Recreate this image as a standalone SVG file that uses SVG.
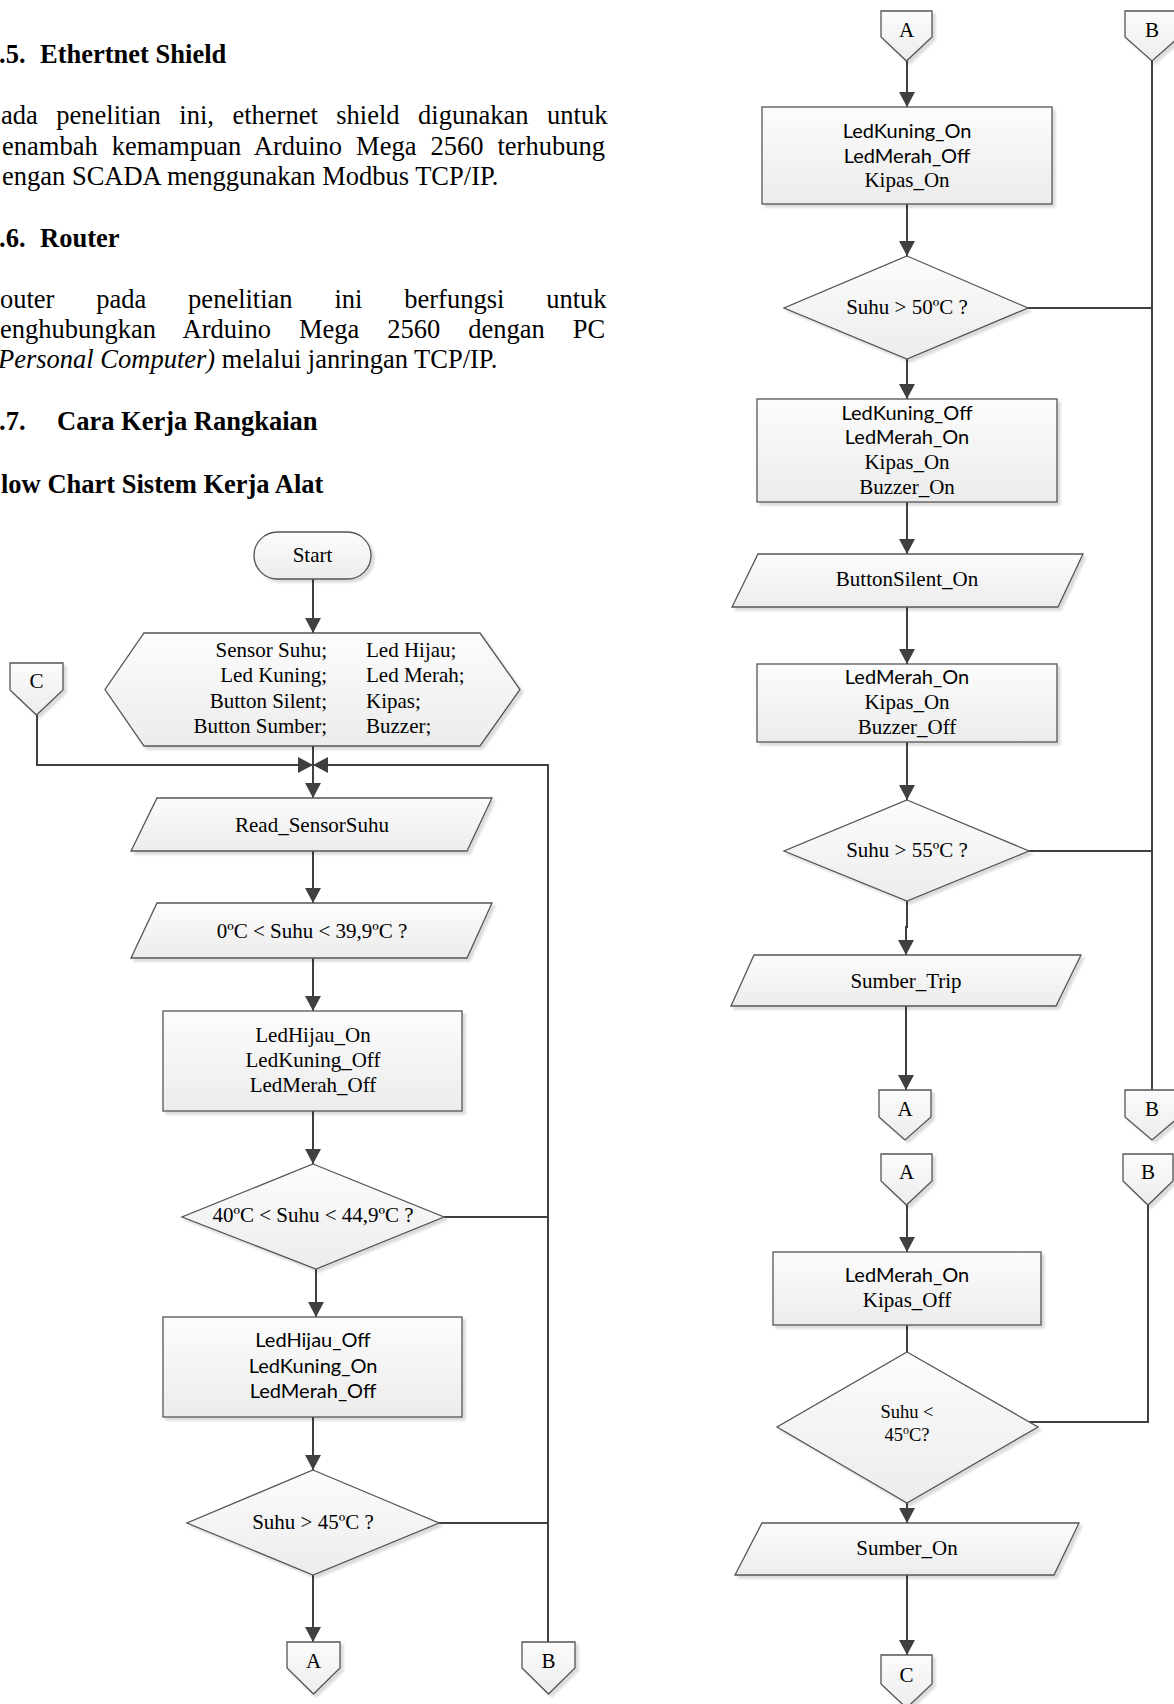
<svg xmlns="http://www.w3.org/2000/svg" width="1174" height="1704" viewBox="0 0 1174 1704">
<defs>
<linearGradient id="g" x1="0" y1="0" x2="0" y2="1">
<stop offset="0" stop-color="#fcfcfc"/>
<stop offset="1" stop-color="#ececec"/>
</linearGradient>
<filter id="sh" x="-10%" y="-10%" width="125%" height="130%">
<feDropShadow dx="3" dy="3" stdDeviation="1" flood-color="#000" flood-opacity="0.14"/>
</filter>
<marker id="arr" viewBox="0 0 15 16" refX="15" refY="8" markerWidth="15" markerHeight="16" markerUnits="userSpaceOnUse" orient="auto">
<path d="M0,0 L15,8 L0,16 z" fill="#404040"/>
</marker>
<style>
.n{fill:url(#g);stroke:#555;stroke-width:1.3;filter:url(#sh)}
.e{fill:none;stroke:#404040;stroke-width:2}
.a{marker-end:url(#arr)}
.t{font-family:"Liberation Serif","Times New Roman",serif;font-size:21px;fill:#000;text-anchor:middle}
.s{font-family:Lato,"Open Sans",sans-serif;font-size:20px;fill:#000;text-anchor:middle}
.doc{font-family:"Liberation Serif","Times New Roman",serif;font-size:26.5px;fill:#000}
.b{font-weight:bold}
</style>
</defs>
<rect width="1174" height="1704" fill="#fff"/>

<g id="document-text">
<text class="doc b" x="-1" y="63">.5.</text>
<text class="doc b" x="40" y="63">Ethertnet Shield</text>
<text class="doc" x="1" y="124" style="word-spacing:11.9px">ada penelitian ini, ethernet shield digunakan untuk</text>
<text class="doc" x="2" y="155" style="word-spacing:7.4px">enambah kemampuan Arduino Mega 2560 terhubung</text>
<text class="doc" x="2" y="185">engan SCADA menggunakan Modbus TCP/IP.</text>
<text class="doc b" x="-1" y="247">.6.</text>
<text class="doc b" x="40" y="247">Router</text>
<text class="doc" x="0" y="308" style="word-spacing:35.2px">outer pada penelitian ini berfungsi untuk</text>
<text class="doc" x="0" y="338" style="word-spacing:21.4px">enghubungkan Arduino Mega 2560 dengan PC</text>
<text class="doc" x="-2" y="368"><tspan font-style="italic">Personal Computer)</tspan> melalui janringan TCP/IP.</text>
<text class="doc b" x="-1" y="430">.7.</text>
<text class="doc b" x="57" y="430">Cara Kerja Rangkaian</text>
<text class="doc b" x="1" y="493">low Chart Sistem Kerja Alat</text>
</g>

<g id="connectors">
<path class="e a" d="M313,579 V633"/>
<path class="e a" d="M37,715 V765 H313"/>
<path class="e a" d="M548,1642 V765 H313"/>
<path class="e a" d="M313,746 V798"/>
<path class="e a" d="M313,851 V903"/>
<path class="e a" d="M313,958 V1011"/>
<path class="e a" d="M313,1111 V1164"/>
<path class="e" d="M444,1217 H548"/>
<path class="e a" d="M316,1269 V1317"/>
<path class="e a" d="M313,1417 V1470"/>
<path class="e" d="M439,1523 H548"/>
<path class="e a" d="M313,1575 V1642"/>

<path class="e a" d="M907,61 V107"/>
<path class="e a" d="M907,204 V256"/>
<path class="e" d="M1152,61 V1090"/>
<path class="e" d="M1028,308 H1152"/>
<path class="e a" d="M907,359 V399"/>
<path class="e a" d="M907,502 V554"/>
<path class="e a" d="M907,607 V664"/>
<path class="e a" d="M907,742 V800"/>
<path class="e" d="M1029,851 H1152"/>
<path class="e a" d="M907,901 V927 H906 V955"/>
<path class="e a" d="M906,1006 V1090"/>
<path class="e a" d="M907,1205 V1252"/>
<path class="e" d="M907,1325 V1352"/>
<path class="e" d="M1148,1205 V1422 H1029"/>
<path class="e a" d="M907,1503 V1523"/>
<path class="e a" d="M907,1575 V1655"/>
</g>

<g id="start">
<rect class="n" x="254" y="532" width="117" height="47" rx="23.5"/>
<text class="t" x="312.5" y="562">Start</text>
</g>
<g id="init">
<polygon class="n" points="144,633 480,633 520,689.5 480,746 144,746 105,689.5"/>
<text class="t" style="text-anchor:end" x="327" y="657">Sensor Suhu;</text>
<text class="t" style="text-anchor:end" x="327" y="682">Led Kuning;</text>
<text class="t" style="text-anchor:end" x="327" y="708">Button Silent;</text>
<text class="t" style="text-anchor:end" x="327" y="733">Button Sumber;</text>
<text class="t" style="text-anchor:start" x="366" y="657">Led Hijau;</text>
<text class="t" style="text-anchor:start" x="366" y="682">Led Merah;</text>
<text class="t" style="text-anchor:start" x="366" y="708">Kipas;</text>
<text class="t" style="text-anchor:start" x="366" y="733">Buzzer;</text>
</g>
<g id="conn-c-in">
<polygon class="n" points="10,663 63,663 63,690 36.5,715 10,690"/>
<text class="t" x="36.5" y="688">C</text>
</g>
<g id="read">
<polygon class="n" points="157,798 492,798 467,851 131,851"/>
<text class="t" x="312" y="832">Read_SensorSuhu</text>
</g>
<g id="cek1">
<polygon class="n" points="157,903 492,903 467,958 131,958"/>
<text class="t" x="312" y="938">0ºC &lt; Suhu &lt; 39,9ºC ?</text>
</g>
<g id="aksi1">
<rect class="n" x="163" y="1011" width="299" height="100"/>
<text class="t" x="313" y="1042">LedHijau_On</text>
<text class="t" x="313" y="1067">LedKuning_Off</text>
<text class="t" x="313" y="1092">LedMerah_Off</text>
</g>
<g id="cek2">
<polygon class="n" points="313,1164 444,1217 316,1269 182,1217"/>
<text class="t" x="313" y="1222">40ºC &lt; Suhu &lt; 44,9ºC ?</text>
</g>
<g id="aksi2">
<rect class="n" x="163" y="1317" width="299" height="100"/>
<text class="s" x="313" y="1347">LedHijau_Off</text>
<text class="s" x="313" y="1373">LedKuning_On</text>
<text class="s" x="313" y="1398">LedMerah_Off</text>
</g>
<g id="cek3">
<polygon class="n" points="313,1470 439,1523 313,1575 187,1523"/>
<text class="t" x="313" y="1529">Suhu &gt; 45ºC ?</text>
</g>
<g id="conn-a-out">
<polygon class="n" points="287,1642 340,1642 340,1668 313.5,1694 287,1668"/>
<text class="t" x="313.5" y="1668">A</text>
</g>
<g id="conn-b-out">
<polygon class="n" points="522,1642 575,1642 575,1668 548.5,1694 522,1668"/>
<text class="t" x="548.5" y="1668">B</text>
</g>

<g id="conn-a-in">
<polygon class="n" points="881,11 932,11 932,37 906.5,61 881,37"/>
<text class="t" x="906.5" y="37">A</text>
</g>
<g id="conn-b-in">
<polygon class="n" points="1125,11 1179,11 1179,37 1152,61 1125,37"/>
<text class="t" x="1152" y="37">B</text>
</g>
<g id="aksi3">
<rect class="n" x="762" y="107" width="290" height="97"/>
<text class="s" x="907" y="137.5">LedKuning_On</text>
<text class="s" x="907" y="162.5">LedMerah_Off</text>
<text class="t" x="907" y="187">Kipas_On</text>
</g>
<g id="cek4">
<polygon class="n" points="907,256 1028,308 907,359 784,308"/>
<text class="t" x="907" y="314">Suhu &gt; 50ºC ?</text>
</g>
<g id="aksi4">
<rect class="n" x="757" y="399" width="300" height="103"/>
<text class="s" x="907" y="420">LedKuning_Off</text>
<text class="s" x="907" y="444">LedMerah_On</text>
<text class="t" x="907" y="469">Kipas_On</text>
<text class="t" x="907" y="494">Buzzer_On</text>
</g>
<g id="silent">
<polygon class="n" points="758,554 1083,554 1058,607 732,607"/>
<text class="t" x="907" y="586">ButtonSilent_On</text>
</g>
<g id="aksi5">
<rect class="n" x="757" y="664" width="300" height="78"/>
<text class="s" x="907" y="684">LedMerah_On</text>
<text class="t" x="907" y="709">Kipas_On</text>
<text class="t" x="907" y="734">Buzzer_Off</text>
</g>
<g id="cek5">
<polygon class="n" points="907,800 1029,851 907,901 784,851"/>
<text class="t" x="907" y="857">Suhu &gt; 55ºC ?</text>
</g>
<g id="trip">
<polygon class="n" points="754,955 1081,955 1056,1006 731,1006"/>
<text class="t" x="906" y="988">Sumber_Trip</text>
</g>
<g id="conn-a-out2">
<polygon class="n" points="879,1090 931,1090 931,1117 905,1140 879,1117"/>
<text class="t" x="905" y="1116">A</text>
</g>
<g id="conn-b-out2">
<polygon class="n" points="1125,1090 1179,1090 1179,1117 1152,1140 1125,1117"/>
<text class="t" x="1152" y="1116">B</text>
</g>
<g id="conn-a-in2">
<polygon class="n" points="881,1154 932,1154 932,1181 906.5,1205 881,1181"/>
<text class="t" x="906.5" y="1179">A</text>
</g>
<g id="conn-b-in2">
<polygon class="n" points="1123,1154 1173,1154 1173,1181 1148,1205 1123,1181"/>
<text class="t" x="1148" y="1179">B</text>
</g>
<g id="aksi6">
<rect class="n" x="773" y="1252" width="268" height="73"/>
<text class="s" x="907" y="1282">LedMerah_On</text>
<text class="t" x="907" y="1307">Kipas_Off</text>
</g>
<g id="cek6">
<polygon class="n" points="907,1352 1038,1427 907,1503 777,1427"/>
<text class="t" style="font-size:18.5px" x="907" y="1418">Suhu &lt;</text>
<text class="t" style="font-size:18.5px" x="907" y="1441">45<tspan font-size="12" dy="-7">o</tspan><tspan dy="7">C?</tspan></text>
</g>
<g id="sumber-on">
<polygon class="n" points="762,1523 1079,1523 1054,1575 735,1575"/>
<text class="t" x="907" y="1555">Sumber_On</text>
</g>
<g id="conn-c-out">
<polygon class="n" points="881,1655 932,1655 932,1684 906.5,1708 881,1684"/>
<text class="t" x="906.5" y="1682">C</text>
</g>
</svg>
